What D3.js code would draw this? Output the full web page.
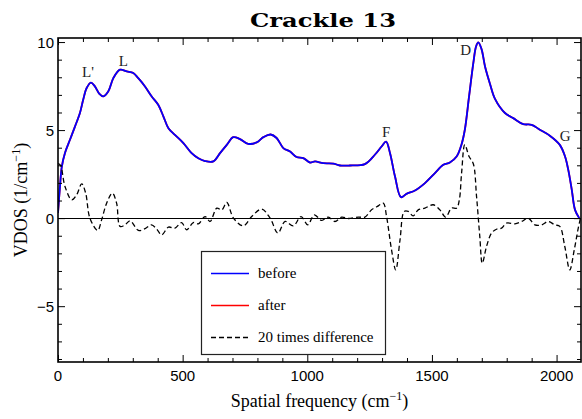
<!DOCTYPE html>
<html>
<head>
<meta charset="utf-8">
<script src="https://cdn.jsdelivr.net/npm/d3@7"></script>
<style>
body { margin: 0; background: #fff; }
</style>
</head>
<body>
<svg id="chart" width="582" height="419"></svg>
<script>
// spectrum "before" (after lies on top of it)
var freq = [0, 8, 15, 28, 48, 68, 88, 101, 115, 132, 148, 166, 182, 202, 222, 249, 276, 302, 322, 349,
  376, 402, 423, 443, 469, 503, 536, 563, 590, 623, 650, 677, 703, 730, 763, 797, 824, 853, 877, 904,
  931, 957, 984, 1011, 1031, 1064, 1104, 1131, 1171, 1231, 1271, 1298, 1316, 1332, 1352, 1376, 1398, 1432, 1472, 1512,
  1546, 1572, 1599, 1619, 1632, 1649, 1666, 1677, 1686, 1699, 1713, 1733, 1753, 1793, 1826, 1866, 1900, 1933, 1973, 2013,
  2034, 2047, 2061, 2074, 2091];
var before = [0.3, 1.8, 2.9, 3.7, 4.45, 5.2, 5.97, 6.72, 7.39, 7.7, 7.48, 7.06, 6.91, 7.2, 7.95, 8.43, 8.33, 8.24, 7.95, 7.48,
  6.91, 6.44, 5.77, 5.11, 4.73, 4.26, 3.69, 3.4, 3.24, 3.22, 3.69, 4.16, 4.6, 4.49, 4.22, 4.3, 4.6, 4.75, 4.55, 3.98,
  3.78, 3.47, 3.41, 3.16, 3.22, 3.12, 3.1, 2.99, 2.99, 3.07, 3.6, 4.07, 4.35, 3.69, 2.36, 1.19, 1.38, 1.57, 1.99, 2.56,
  3.03, 3.16, 3.5, 4.2, 5.02, 6.91, 8.8, 9.75, 9.98, 9.6, 8.61, 7.62, 6.77, 5.97, 5.68, 5.34, 5.3, 5.02, 4.68, 4.16,
  3.5, 2.74, 1.61, 0.47, 0.0];
var after = before.slice();

// 20 times difference
var diffFreq = [0, 10, 28, 55, 75, 95, 111, 128, 159, 175, 195, 218, 235, 249, 269, 289, 323, 349, 375, 396,
  416, 443, 469, 496, 516, 543, 563, 590, 610, 637, 657, 677, 704, 744, 777, 817, 851, 882, 911, 944,
  975, 1002, 1028, 1058, 1084, 1111, 1138, 1164, 1205, 1231, 1258, 1285, 1305, 1318, 1338, 1355, 1372, 1389, 1405, 1425,
  1445, 1472, 1505, 1532, 1555, 1579, 1599, 1610, 1619, 1632, 1649, 1666, 1679, 1692, 1702, 1719, 1739, 1759, 1779, 1799,
  1833, 1860, 1886, 1913, 1940, 1966, 1993, 2013, 2033, 2053, 2071, 2087, 2096];
var diff = [3.1, 3.0, 1.8, 1.04, 1.33, 1.95, 1.42, 0, -0.7, -0.1, 0.85, 1.42, 0.85, -0.47, -0.38, -0.15, -0.7, -0.6, -0.38, -0.62,
  -0.95, -0.51, -0.57, -0.25, -0.66, -0.25, -0.32, 0.09, -0.19, 0.57, 0.47, 0.89, 0, -0.44, 0.09, 0.51, 0, -0.85, -0.19, -0.44,
  0.09, -0.38, 0.19, -0.13, 0.06, -0.19, 0.06, -0.02, 0.06, 0.06, 0.47, 0.7, 0.85, 0.09, -1.8, -2.94, -1.23, 0.38, 0.38, 0.13,
  0.47, 0.57, 0.76, 0.47, 0.06, 0.57, 0.57, 1.04, 2.56, 4.17, 3.5, 3.09, 1.23, -1.04, -2.56, -1.61, -0.85, -0.63, -0.57, -0.28,
  -0.32, -0.19, 0, -0.38, -0.38, -0.19, -0.38, -0.47, -1.61, -2.94, -1.8, -0.57, 0];

var peakNames = ["L'", "L", "F", "D", "G"];
var peakFreq = [120, 262, 1316, 1635, 2035];
var peakVal = [8.0, 8.65, 4.6, 9.25, 4.4];

var xMajor = [0, 500, 1000, 1500, 2000];
var yMajor = [-5, 0, 5, 10];

var legendNames = ["before", "after", "20 times difference"];
var legendColors = ["#0000ff", "#ff0000", "#000"];

var svg = d3.select("#chart"),
  width = +svg.attr("width"),
  height = +svg.attr("height");

// plot box (note: "top" is taken by window.top)
var pl = 58, pr = 581, pt = 38, pb = 362;

var x = d3.scaleLinear().domain([0, 2098]).range([pl, pr]);
var y = d3.scaleLinear().domain([-8.17, 10.23]).range([pb, pt]);

var serif = "'Liberation Serif', 'Times New Roman', serif";
var sans = "'Liberation Sans', Arial, sans-serif";

svg.append("clipPath").attr("id", "clip")
  .append("rect").attr("x", pl).attr("y", pt).attr("width", pr - pl).attr("height", pb - pt);

var plot = svg.append("g").attr("clip-path", "url(#clip)");

// zero line
var y0 = Math.round(y(0)) + 0.5;
plot.append("line")
  .attr("x1", pl).attr("x2", pr)
  .attr("y1", y0).attr("y2", y0)
  .attr("stroke", "#000").attr("stroke-width", 1);

var line = d3.line()
  .x(function(d) { return x(d[0]); })
  .y(function(d) { return y(d[1]); })
  .curve(d3.curveCatmullRom);

plot.append("path")
  .datum(d3.zip(freq, after))
  .attr("fill", "none").attr("stroke", "#ff0000").attr("stroke-width", 1.8)
  .attr("d", line);

plot.append("path")
  .datum(d3.zip(freq, before))
  .attr("fill", "none").attr("stroke", "#0000ff").attr("stroke-width", 1.8)
  .attr("d", line);

plot.append("path")
  .datum(d3.zip(diffFreq, diff))
  .attr("fill", "none").attr("stroke", "#000").attr("stroke-width", 1.3)
  .attr("stroke-dasharray", "5,3")
  .attr("d", line);

// ticks on all four sides, pointing inward
var xMinor = d3.range(0, 2100, 100).filter(function(v) { return xMajor.indexOf(v) < 0; });
var yMinor = d3.range(-8, 11, 1).filter(function(v) { return yMajor.indexOf(v) < 0; });

function tickAxes(axisFn, scale, pos, vals, len) {
  svg.append("g")
    .attr("transform", pos)
    .call(axisFn(scale).tickValues(vals).tickSize(len).tickFormat(""))
    .call(function(g) { g.select(".domain").remove(); })
    .selectAll("line").attr("stroke", "#000").attr("stroke-width", 1);
}
tickAxes(d3.axisBottom, x, "translate(0," + pb + ")", xMinor, -4);
tickAxes(d3.axisBottom, x, "translate(0," + pb + ")", xMajor, -7);
tickAxes(d3.axisTop, x, "translate(0," + pt + ")", xMinor, -4);
tickAxes(d3.axisTop, x, "translate(0," + pt + ")", xMajor, -7);
tickAxes(d3.axisLeft, y, "translate(" + pl + ",0)", yMinor, -4);
tickAxes(d3.axisLeft, y, "translate(" + pl + ",0)", yMajor, -7);
tickAxes(d3.axisRight, y, "translate(" + pr + ",0)", yMinor, -4);
tickAxes(d3.axisRight, y, "translate(" + pr + ",0)", yMajor, -7);

// tick labels
svg.append("g").selectAll("text")
  .data(xMajor).enter().append("text")
  .attr("x", function(d) { return x(d); })
  .attr("y", 381)
  .attr("text-anchor", "middle")
  .style("font-family", sans).style("font-size", "15px")
  .text(function(d) { return d; });

svg.append("g").selectAll("text")
  .data(yMajor).enter().append("text")
  .attr("x", 54)
  .attr("y", function(d) { return y(d) + 5.5; })
  .attr("text-anchor", "end")
  .style("font-family", sans).style("font-size", "15px")
  .text(function(d) { return d3.format("")(d); });

// frame
svg.append("rect")
  .attr("x", pl).attr("y", pt)
  .attr("width", pr - pl).attr("height", pb - pt)
  .attr("fill", "none").attr("stroke", "#000").attr("stroke-width", 1.6);

// peak labels
svg.append("g").selectAll("text")
  .data(peakNames).enter().append("text")
  .attr("x", function(d, i) { return x(peakFreq[i]); })
  .attr("y", function(d, i) { return y(peakVal[i]); })
  .attr("text-anchor", "middle")
  .style("font-family", serif).style("font-size", "15px")
  .attr("fill", "#222")
  .text(function(d) { return d; });

// title, stretched to the wide bold face of the original
svg.append("text")
  .attr("x", 250).attr("y", 27)
  .attr("textLength", 146).attr("lengthAdjust", "spacingAndGlyphs")
  .style("font-family", "'DejaVu Serif', serif").style("font-weight", "bold").style("font-size", "19px")
  .text("Crackle 13");

// axis titles
var xt = svg.append("text")
  .attr("x", (pl + pr) / 2).attr("y", 407)
  .attr("text-anchor", "middle")
  .style("font-family", serif).style("font-size", "18px");
xt.append("tspan").text("Spatial frequency (cm");
xt.append("tspan").attr("dy", -7).style("font-size", "12px").text("\u22121");
xt.append("tspan").attr("dy", 7).text(")");

var yt = svg.append("text")
  .attr("transform", "translate(27," + (pt + pb) / 2 + ") rotate(-90)")
  .attr("text-anchor", "middle")
  .style("font-family", serif).style("font-size", "18px");
yt.append("tspan").text("VDOS (1/cm");
yt.append("tspan").attr("dy", -7).style("font-size", "12px").text("\u22121");
yt.append("tspan").attr("dy", 7).text(")");

// legend
var lg = svg.append("g");
lg.append("rect")
  .attr("x", 201.5).attr("y", 251.5).attr("width", 184).attr("height", 103)
  .attr("fill", "#fff").attr("stroke", "#222").attr("stroke-width", 1.2);

var items = lg.selectAll(".item")
  .data(legendNames).enter().append("g")
  .attr("class", "item")
  .attr("transform", function(d, i) { return "translate(0," + (273.5 + i * 32) + ")"; });

items.append("line")
  .attr("x1", 211).attr("x2", 249)
  .attr("stroke", function(d, i) { return legendColors[i]; })
  .attr("stroke-width", function(d, i) { return i == 2 ? 1.3 : 1.5; })
  .attr("stroke-dasharray", function(d, i) { return i == 2 ? "5,3" : null; });

items.append("text")
  .attr("x", 258).attr("y", 4.5)
  .style("font-family", serif).style("font-size", "15px")
  .text(function(d) { return d; });
</script>
</body>
</html>
